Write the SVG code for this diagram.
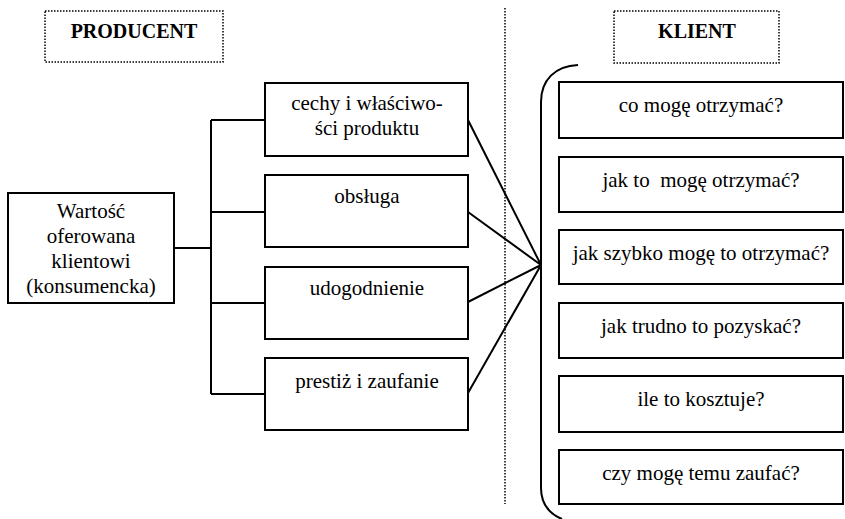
<svg xmlns="http://www.w3.org/2000/svg" width="845" height="519" viewBox="0 0 845 519" font-family="'Liberation Serif', 'Times New Roman', serif">
<style>
.box{fill:#fff;stroke:#000;stroke-width:2}
.dot{fill:none;stroke:#000;stroke-width:1.5;stroke-dasharray:1.5 1.5}
.ln{fill:none;stroke:#000;stroke-width:2}
text{font-family:'Liberation Serif','Times New Roman',serif;font-size:21px;fill:#000;text-anchor:middle}
.hd{font-weight:bold;font-size:20px}
</style>
<rect width="845" height="519" fill="#fff"/>
<g id="producent"><rect class="dot" x="45" y="11" width="178" height="51"/><text class="hd" x="134" y="38">PRODUCENT</text></g>
<g id="klient"><rect class="dot" x="614" y="11" width="165" height="52"/><text class="hd" x="697" y="38">KLIENT</text></g>
<line id="divider" class="dot" x1="505" y1="8" x2="505" y2="504"/>
<g id="connectors">
<path class="ln" d="M174 248H211M211 120V394M211 120H266M211 212H266M211 303H266M211 394H266"/>
<path class="ln" d="M468 120L541 265M468 212L541 265M468 302L541 265M468 393L541 265"/>
<path class="ln" d="M578 65C555 66 541 80 541 102L541 488C541 505 550 514 562 519"/>
</g>
<g id="wartosc"><rect class="box" x="8" y="193" width="166" height="110"/><text x="91" y="218">Wartość</text><text x="91" y="243">oferowana</text><text x="91" y="268">klientowi</text><text x="91" y="293">(konsumencka)</text></g>
<g id="cechy"><rect class="box" x="265" y="83" width="203" height="73"/><text x="367" y="110">cechy i właściwo-</text><text x="367" y="135">ści produktu</text></g>
<g id="obsluga"><rect class="box" x="265" y="175" width="203" height="72"/><text x="367" y="203">obsługa</text></g>
<g id="udogodnienie"><rect class="box" x="265" y="267" width="203" height="72"/><text x="367" y="295">udogodnienie</text></g>
<g id="prestiz"><rect class="box" x="265" y="358" width="203" height="72"/><text x="367" y="388">prestiż i zaufanie</text></g>
<g id="q1"><rect class="box" x="559" y="82" width="284" height="56"/><text x="701" y="112">co mogę otrzymać?</text></g>
<g id="q2"><rect class="box" x="559" y="157" width="284" height="55"/><text x="701" y="187" xml:space="preserve">jak to  mogę otrzymać?</text></g>
<g id="q3"><rect class="box" x="559" y="230" width="284" height="54"/><text x="701" y="260">jak szybko mogę to otrzymać?</text></g>
<g id="q4"><rect class="box" x="559" y="303" width="284" height="55"/><text x="701" y="333">jak trudno to pozyskać?</text></g>
<g id="q5"><rect class="box" x="559" y="376" width="284" height="56"/><text x="701" y="406">ile to kosztuje?</text></g>
<g id="q6"><rect class="box" x="559" y="450" width="284" height="54"/><text x="701" y="480">czy mogę temu zaufać?</text></g>
</svg>
